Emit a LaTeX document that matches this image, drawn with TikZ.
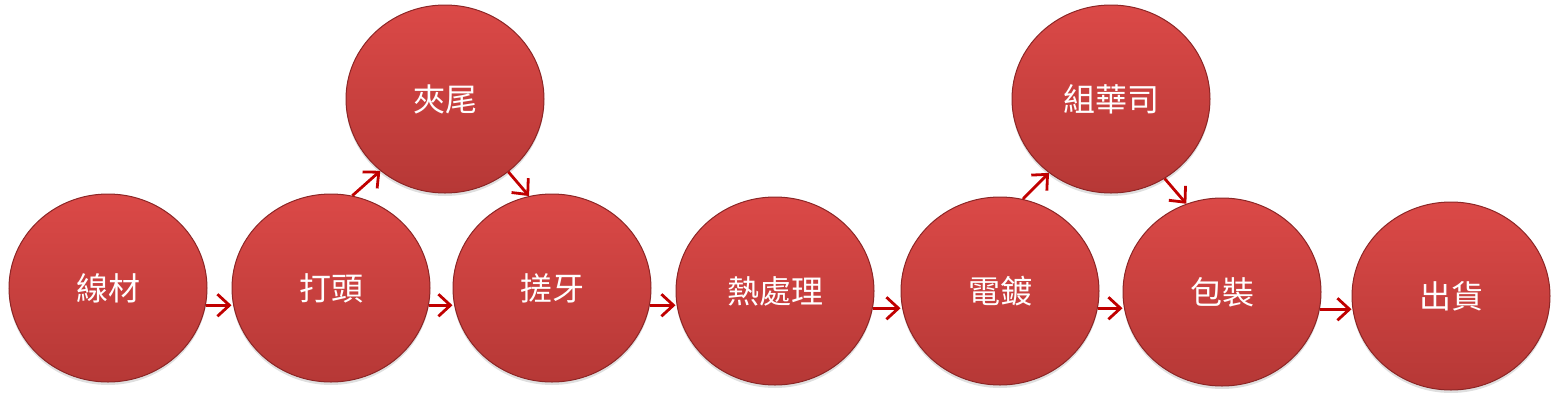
\documentclass[tikz,border=0pt]{standalone}
\usepackage{fontspec}
\newfontfamily\cjk{Noto Sans CJK TC}
\usetikzlibrary{arrows.meta,shapes.geometric,shadows}
\definecolor{ballTop}{RGB}{219,73,71}
\definecolor{ballBot}{RGB}{182,56,54}
\definecolor{ballEdge}{RGB}{140,38,38}
\definecolor{flowRed}{RGB}{192,0,0}
\tikzset{
  stage/.style={ellipse, minimum width=99pt, minimum height=94pt, inner sep=0pt,
    top color=ballTop, bottom color=ballBot, draw=ballEdge, line width=0.5pt,
    drop shadow={opacity=0.25, shadow xshift=0pt, shadow yshift=-1.5pt},
    text=white, font=\cjk\fontsize{16pt}{18pt}\selectfont},
  flow/.style={draw=flowRed, line width=1.4pt,
    -{Straight Barb[length=6pt,width=11pt]}}
}
\begin{document}
\begin{tikzpicture}[x=0.5pt,y=-0.5pt]
  \useasboundingbox (0,0) rectangle (1560,403);
  \draw
    (108,288) node[stage] (xc){線材}
    (331,288) node[stage] (dt){打頭}
    (445,99) node[stage] (jw){夾尾}
    (552,288) node[stage] (cy){搓牙}
    (775,291) node[stage] (rcl){熱處理}
    (1000,291) node[stage] (dd){電鍍}
    (1111,99) node[stage] (zhs){組華司}
    (1222,292) node[stage] (bz){包裝}
    (1451,296) node[stage] (ch){出貨};
  \begin{scope}[flow]
    \draw (xc.350) to (xc.350 -| dt.west);
    \draw (dt.350) to (dt.350 -| cy.west);
    \draw (cy.350) to (cy.350 -| rcl.west);
    \draw (rcl.350) to (rcl.350 -| dd.west);
    \draw (dd.350) to (dd.350 -| bz.west);
    \draw (bz.350) to (bz.350 -| ch.west);
    \draw (dt.77) to (jw.228);
    \draw (jw.311) to (cy.104);
    \draw (dd.76) to (zhs.230);
    \draw (zhs.304) to (bz.112);
  \end{scope}
\end{tikzpicture}
\end{document}
